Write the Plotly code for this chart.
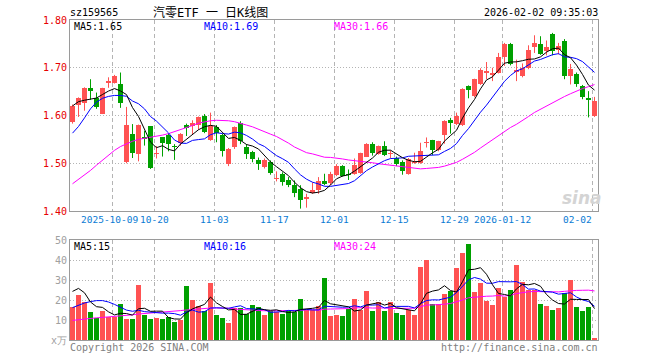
import plotly.graph_objects as go
import pandas as pd

# ---------------- data ----------------
open_ = [1.586, 1.623, 1.626, 1.657, 1.636, 1.604, 1.669, 1.668, 1.665, 1.502,
         1.561, 1.519, 1.554, 1.577, 1.520, 1.554, 1.560, 1.536, 1.542, 1.580,
         1.577, 1.581, 1.600, 1.549, 1.576, 1.560, 1.499, 1.533, 1.585, 1.535,
         1.523, 1.507, 1.493, 1.503, 1.467, 1.478, 1.465, 1.455, 1.447, 1.426,
         1.438, 1.443, 1.463, 1.459, 1.476, 1.495, 1.478, 1.478, 1.479, 1.514,
         1.541, 1.520, 1.537, 1.520, 1.510, 1.502, 1.478, 1.500, 1.501, 1.543,
         1.548, 1.527, 1.560, 1.590, 1.582, 1.580, 1.662, 1.640, 1.665, 1.690,
         1.685, 1.690, 1.723, 1.750, 1.692, 1.683, 1.699, 1.743, 1.749, 1.736,
         1.771, 1.737, 1.755, 1.683, 1.6875, 1.662, 1.637, 1.599]
high = [1.623, 1.638, 1.659, 1.676, 1.648, 1.658, 1.680, 1.685, 1.690, 1.618,
        1.582, 1.581, 1.568, 1.578, 1.536, 1.555, 1.562, 1.540, 1.563, 1.583,
        1.590, 1.598, 1.603, 1.606, 1.580, 1.562, 1.532, 1.577, 1.588, 1.540,
        1.526, 1.512, 1.510, 1.506, 1.483, 1.481, 1.471, 1.464, 1.454, 1.436,
        1.460, 1.471, 1.478, 1.482, 1.498, 1.496, 1.487, 1.510, 1.522, 1.542,
        1.544, 1.537, 1.546, 1.527, 1.514, 1.506, 1.511, 1.522, 1.543, 1.554,
        1.549, 1.547, 1.590, 1.595, 1.606, 1.657, 1.663, 1.677, 1.699, 1.712,
        1.700, 1.731, 1.752, 1.752, 1.717, 1.709, 1.747, 1.768, 1.766, 1.757,
        1.773, 1.752, 1.760, 1.708, 1.690, 1.664, 1.651, 1.639]
low = [1.583, 1.597, 1.610, 1.633, 1.614, 1.603, 1.658, 1.667, 1.616, 1.500,
       1.511, 1.504, 1.537, 1.488, 1.510, 1.514, 1.525, 1.507, 1.537, 1.557,
       1.560, 1.570, 1.563, 1.547, 1.544, 1.514, 1.494, 1.530, 1.540, 1.509,
       1.502, 1.486, 1.489, 1.476, 1.462, 1.453, 1.450, 1.429, 1.405, 1.407,
       1.436, 1.436, 1.454, 1.454, 1.473, 1.472, 1.465, 1.476, 1.478, 1.513,
       1.516, 1.518, 1.515, 1.510, 1.494, 1.476, 1.476, 1.499, 1.499, 1.533,
       1.517, 1.525, 1.541, 1.562, 1.580, 1.578, 1.636, 1.638, 1.664, 1.676,
       1.672, 1.688, 1.704, 1.705, 1.672, 1.680, 1.697, 1.731, 1.727, 1.726,
       1.726, 1.728, 1.676, 1.665, 1.660, 1.634, 1.596, 1.597]
close = [1.620, 1.637, 1.657, 1.651, 1.618, 1.657, 1.673, 1.683, 1.626, 1.580,
         1.521, 1.580, 1.550, 1.490, 1.522, 1.542, 1.541, 1.534, 1.562, 1.574,
         1.584, 1.597, 1.565, 1.577, 1.563, 1.525, 1.530, 1.575, 1.547, 1.519,
         1.509, 1.499, 1.507, 1.479, 1.470, 1.460, 1.454, 1.438, 1.422, 1.429,
         1.445, 1.463, 1.457, 1.478, 1.494, 1.474, 1.476, 1.496, 1.521, 1.541,
         1.521, 1.536, 1.517, 1.522, 1.499, 1.484, 1.509, 1.502, 1.526, 1.545,
         1.527, 1.546, 1.588, 1.584, 1.600, 1.655, 1.653, 1.676, 1.695, 1.693,
         1.688, 1.723, 1.749, 1.707, 1.695, 1.700, 1.738, 1.752, 1.729, 1.744,
         1.736, 1.745, 1.683, 1.697, 1.667, 1.638, 1.633, 1.631]
volume = [16.4, 22.6, 19.1, 14.1, 11.1, 14.6, 11.5, 11.4, 18.1, 10.6,
          10.5, 27.6, 12.5, 10.5, 11.0, 10.5, 11.6, 9.0, 10.1, 27.1,
          20.1, 17.0, 14.6, 28.6, 12.5, 11.0, 8.5, 15.9, 16.0, 12.9,
          17.6, 16.6, 12.6, 14.5, 14.2, 13.1, 14.5, 14.0, 20.5, 15.1,
          15.1, 17.0, 31.1, 12.2, 12.4, 12.0, 15.3, 20.5, 15.0, 24.5,
          14.5, 18.8, 14.5, 19.2, 13.7, 12.5, 15.0, 12.5, 36.7, 40.0,
          18.0, 18.0, 23.0, 24.7, 36.2, 43.7, 48.0, 24.2, 28.7, 19.7,
          17.5, 26.2, 21.7, 25.0, 37.5, 28.8, 25.0, 25.0, 18.0, 17.0,
          15.0, 16.2, 23.7, 30.0, 16.5, 14.5, 16.5, 1.0]

# moving-average values of the first candles (their history lies before the window)
ma5_head = [1.620, 1.629, 1.632, 1.634]
ma10_head = [1.563, 1.577, 1.595, 1.614, 1.628, 1.636, 1.640, 1.642, 1.642]
ma30_head = [1.457, 1.466, 1.475, 1.485, 1.496, 1.507, 1.518, 1.527, 1.535, 1.541,
             1.546, 1.550, 1.552, 1.554, 1.556, 1.559, 1.562, 1.566, 1.570, 1.575,
             1.579, 1.584, 1.587, 1.589, 1.590, 1.590, 1.589, 1.587, 1.584]
vma5_head = [24.3, 25.8, 23.6, 19.0]
vma10_head = [16.2, 17.3, 18.5, 19.2, 19.7, 19.7, 19.0, 17.8, 16.3]
vma30_head = [9.8, 10.2, 10.6, 10.9, 11.1, 11.3, 11.5, 11.8, 12.0, 12.3,
              12.6, 13.0, 13.2, 13.4, 13.6, 13.9, 14.2, 14.4, 14.7, 15.0,
              15.3, 15.6, 15.8, 16.0, 16.0, 16.0, 15.9, 15.5, 15.2]

tick_idx = [7, 14, 24, 34, 44, 54, 64, 72, 87]
tick_labels = ["2025-10-09", "10-20", "11-03", "11-17", "12-01", "12-15",
               "12-29", "2026-01-12", "02-02"]

code = "sz159565"
title = "汽零ETF 一 日K线图"
stamp = "2026-02-02 09:35:03"

# ---------------- helpers ----------------
def moving(values, n, head):
    s = pd.Series(values).rolling(n).mean().tolist()
    s[:n - 1] = head
    return s

n = len(close)
xs = list(range(n))
ma5 = moving(close, 5, ma5_head)
ma10 = moving(close, 10, ma10_head)
ma30 = moving(close, 30, ma30_head)
vma5 = moving(volume, 5, vma5_head)
vma10 = moving(volume, 10, vma10_head)
vma30 = moving(volume, 30, vma30_head)

RED = "#ff5252"
GREEN = "#00a000"
MONO = "DejaVu Sans Mono"
CJK = "DejaVu Sans Mono, Noto Sans CJK SC"
GRID = "#b4b4b4"
FRAME = "#9a9a9a"

up = [c >= o for o, c in zip(open_, close)]

fig = go.Figure()

# wicks
for flag, col in ((True, RED), (False, GREEN)):
    wx, wy = [], []
    for i in xs:
        if up[i] == flag:
            wx += [i, i, None]
            wy += [low[i], high[i], None]
    fig.add_trace(go.Scatter(x=wx, y=wy, mode="lines", line=dict(color=col, width=1),
                             xaxis="x", yaxis="y", hoverinfo="skip"))

# bodies
for flag, col in ((True, RED), (False, GREEN)):
    bx = [i for i in xs if up[i] == flag]
    base = [min(open_[i], close[i]) for i in bx]
    hgt = [max(abs(close[i] - open_[i]), 0.0022) for i in bx]
    fig.add_trace(go.Bar(x=bx, y=hgt, base=base, width=5 / 6, marker=dict(color=col, line=dict(width=0)),
                         xaxis="x", yaxis="y", hoverinfo="skip"))

# price MAs
for vals, col in ((ma30, "#ff00ff"), (ma10, "#0000ff"), (ma5, "#000000")):
    fig.add_trace(go.Scatter(x=xs, y=vals, mode="lines", line=dict(color=col, width=1),
                             xaxis="x", yaxis="y", hoverinfo="skip"))

# volume bars
fig.add_trace(go.Bar(x=xs, y=volume, width=5 / 6,
                     marker=dict(color=[RED if u else GREEN for u in up], line=dict(width=0)),
                     xaxis="x2", yaxis="y2", hoverinfo="skip"))
for vals, col in ((vma30, "#ff00ff"), (vma10, "#0000ff"), (vma5, "#000000")):
    fig.add_trace(go.Scatter(x=xs, y=vals, mode="lines", line=dict(color=col, width=1),
                             xaxis="x2", yaxis="y2", hoverinfo="skip"))

L, R, T, B = 70, 62, 20, 20
PW, PH = 660 - L - R, 360 - T - B
half = 5 / 12
grid_x = [i - half for i in tick_idx]
xr = [-half, n - half]

def px(x):
    return (x - L) / PW

def py(y):
    return (360 - B - y) / PH

def ann(text, x, y, color, size=10, family=MONO, xanchor="left", **kw):
    d = dict(text=text, x=px(x), y=py(y), xref="paper", yref="paper", xanchor=xanchor,
             yanchor="middle", showarrow=False, font=dict(color=color, size=size, family=family))
    d["font"].update(kw)
    return d

annotations = [
    ann(code, 68, 13, "#000"),
    ann(title, 210, 12.5, "#000", size=12, family=CJK, xanchor="center"),
    ann(stamp, 600, 13, "#000", xanchor="right"),
    ann(f"MA5:{ma5[-1]:.2f}", 72, 26, "#000"),
    ann(f"MA10:{ma10[-1]:.2f}", 202, 26, "#0000ff"),
    ann(f"MA30:{ma30[-1]:.2f}", 332, 26, "#ff00ff"),
    ann(f"MA5:{int(vma5[-1])}", 72, 246.5, "#000"),
    ann(f"MA10:{int(vma10[-1])}", 202, 246.5, "#0000ff"),
    ann(f"MA30:{int(vma30[-1])}", 332, 246.5, "#ff00ff"),
    ann("Copyright 2026 SINA.COM", 68, 347, "#808080"),
    ann("http://finance.sina.com.cn", 600, 347, "#808080", xanchor="right"),
    ann("sina", 582, 198, "#d4d4d4", size=17, family="DejaVu Sans", xanchor="center",
        weight="bold", style="italic"),
]
for k, (i, lab) in enumerate(zip(tick_idx, tick_labels)):
    last = k == len(tick_idx) - 1
    shift = 1 if last else (-3 if k == 0 else 0)
    annotations.append(dict(text=lab, x=i - half, y=py(219.5), xref="x", yref="paper",
                            xanchor="right" if last else "center", yanchor="middle",
                            xshift=shift, showarrow=False, borderpad=0,
                            font=dict(color="#0a7bd4", size=9.5, family=MONO)))

common_x = dict(range=xr, tickvals=grid_x, showticklabels=False, showgrid=True, gridcolor=GRID,
                griddash="4px,3px", gridwidth=1, zeroline=False, showline=True, mirror=True,
                linecolor=FRAME, linewidth=1, ticks="", fixedrange=True)

fig.update_layout(
    width=660, height=360, margin=dict(l=L, r=R, t=T, b=B),
    paper_bgcolor="white", plot_bgcolor="white", showlegend=False,
    barmode="overlay", hovermode=False, bargap=0,
    xaxis=dict(domain=[0, 1], anchor="y", **common_x),
    xaxis2=dict(domain=[0, 1], anchor="y2", matches="x", **common_x),
    yaxis=dict(domain=[py(211), 1], anchor="x", range=[1.40, 1.80],
               tickvals=[1.40, 1.50, 1.60, 1.70, 1.80],
               ticktext=["1.40", "1.50", "1.60", "1.70", "1.80"],
               tickfont=dict(color="#e60000", size=10, family=MONO),
               showgrid=True, gridcolor=GRID, griddash="1px,2px", zeroline=False,
               showline=True, mirror=True, linecolor=FRAME, linewidth=1, ticks="",
               fixedrange=True),
    yaxis2=dict(domain=[0, py(240)], anchor="x2", range=[0, 50],
                tickvals=[0, 10, 20, 30, 40, 50],
                ticktext=["x万", "10", "20", "30", "40", "50"],
                tickfont=dict(color="#a0a0a0", size=10, family=MONO),
                showgrid=True, gridcolor=GRID, griddash="1px,2px", zeroline=False,
                showline=True, mirror=True, linecolor=FRAME, linewidth=1, ticks="",
                fixedrange=True),
    annotations=annotations,
)

fig.write_html("out.html", config={"displayModeBar": False, "staticPlot": True},
               post_script="document.body.style.margin='0';document.body.style.overflow='hidden';")
